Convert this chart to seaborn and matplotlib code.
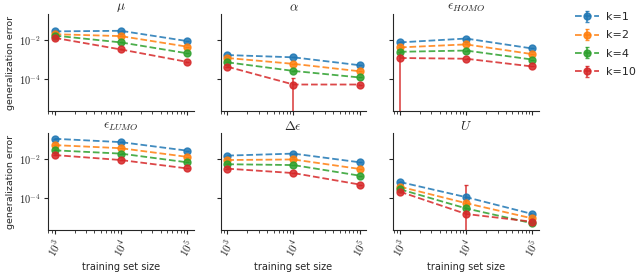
import numpy as np
import pandas as pd
import matplotlib
matplotlib.use("Agg")
import matplotlib.pyplot as plt
import matplotlib.ticker as mticker
import seaborn as sns

sizes = [1e3, 1e4, 1e5]
ks = ["k=1", "k=2", "k=4", "k=10"]
targets = [r"$\mu$", r"$\alpha$", r"$\epsilon_{HOMO}$",
           r"$\epsilon_{LUMO}$", r"$\Delta\epsilon$", r"$U$"]

# generalization error per target, one row per k (k=1, 2, 4, 10)
err_mu = [[2.8e-2, 3.0e-2, 8.9e-3],
          [2.0e-2, 1.6e-2, 4.6e-3],
          [1.7e-2, 7.6e-3, 2.1e-3],
          [1.3e-2, 3.3e-3, 7.6e-4]]
err_alpha = [[1.7e-3, 1.3e-3, 5.1e-4],
             [1.2e-3, 6.0e-4, 2.5e-4],
             [7.2e-4, 2.6e-4, 1.2e-4],
             [4.3e-4, 5.2e-5, 5.2e-5]]
err_homo = [[7.6e-3, 1.2e-2, 3.7e-3],
            [4.2e-3, 6.0e-3, 1.9e-3],
            [2.5e-3, 2.9e-3, 1.0e-3],
            [1.2e-3, 1.1e-3, 4.4e-4]]
err_lumo = [[1.1e-1, 7.4e-2, 2.7e-2],
            [5.2e-2, 3.6e-2, 1.3e-2],
            [2.8e-2, 1.9e-2, 6.8e-3],
            [1.6e-2, 8.9e-3, 3.3e-3]]
err_gap = [[1.5e-2, 1.9e-2, 6.8e-3],
           [8.9e-3, 9.5e-3, 3.1e-3],
           [5.4e-3, 4.9e-3, 1.4e-3],
           [3.2e-3, 1.9e-3, 4.9e-4]]
err_u = [[6.6e-4, 1.1e-4, 1.5e-5],
         [3.8e-4, 5.4e-5, 8.9e-6],
         [2.8e-4, 2.9e-5, 5.0e-6],
         [2.1e-4, 1.5e-5, 6.0e-6]]

# standard deviations (only the k=10 ones are large enough to see)
std_mu = [[0, 0, 0], [0, 0, 0], [0, 0, 0], [0, 0, 0]]
std_alpha = [[0, 0, 0], [0, 0, 0], [0, 0, 0], [0, 6.0e-5, 0]]
std_homo = [[0, 0, 0], [0, 0, 0], [0, 0, 0], [1.3e-3, 0, 0]]
std_lumo = [[0, 0, 0], [0, 0, 0], [0, 0, 0], [0, 0, 0]]
std_gap = [[0, 0, 0], [0, 0, 0], [0, 0, 0], [0, 0, 0]]
std_u = [[0, 0, 0], [0, 0, 0], [0, 0, 0], [0, 4.3e-4, 0]]

means = [err_mu, err_alpha, err_homo, err_lumo, err_gap, err_u]
stds = [std_mu, std_alpha, std_homo, std_lumo, std_gap, std_u]

sns.set_style("ticks")
plt.rcParams["mathtext.fontset"] = "cm"
palette = sns.color_palette("tab10", 4)

fig, axes = plt.subplots(2, 3, figsize=(6.4, 2.73), dpi=100, sharex=True, sharey=True)
fig.subplots_adjust(left=0.075, right=0.842, top=0.948, bottom=0.158,
                    wspace=0.186, hspace=0.23)

def pow10(x, pos):
    return r"$10^{%d}$" % int(round(np.log10(x)))

for i, ax in enumerate(axes.flat):
    for j, k in enumerate(ks):
        ax.errorbar(sizes, means[i][j], yerr=stds[i][j], color=palette[j],
                    ls="--", lw=1.3, marker="o", ms=5, capsize=1.5,
                    elinewidth=1.2, alpha=0.85, label=k)
    ax.set_xscale("log")
    ax.set_yscale("log")
    ax.set_title(targets[i], fontsize=9.5, pad=1.5)
    ax.set_ylim(10 ** -5.64, 10 ** -0.67)
    ax.set_xlim(10 ** 2.9, 10 ** 5.1)
    ax.set_yticks([1e-2, 1e-4])
    ax.yaxis.set_minor_locator(mticker.NullLocator())
    ax.yaxis.set_major_formatter(mticker.FuncFormatter(pow10))
    ax.set_xticks(sizes)
    ax.xaxis.set_major_formatter(mticker.FuncFormatter(pow10))
    ax.tick_params(axis="both", which="major", labelsize=7.5, length=3, width=0.8, pad=2)
    ax.tick_params(axis="x", which="major", labelsize=8)
    ax.tick_params(axis="x", which="minor", length=1.8, width=0.6)
    ax.tick_params(axis="x", labelrotation=60)
    for lab in ax.get_xticklabels():
        lab.set_ha("center")
    sns.despine(ax=ax)
    if i % 3 == 0:
        ax.set_ylabel("generalization error", fontsize=6.8, labelpad=3)
    if i >= 3:
        ax.set_xlabel("training set size", fontsize=7, labelpad=2)

handles, labels = axes[0, 0].get_legend_handles_labels()
fig.legend(handles, labels, loc="upper left", bbox_to_anchor=(0.888, 0.98),
           frameon=False, fontsize=8, handlelength=2.2, handletextpad=0.6,
           labelspacing=0.75, borderaxespad=0.2)

fig.savefig("out.png", dpi=100)
